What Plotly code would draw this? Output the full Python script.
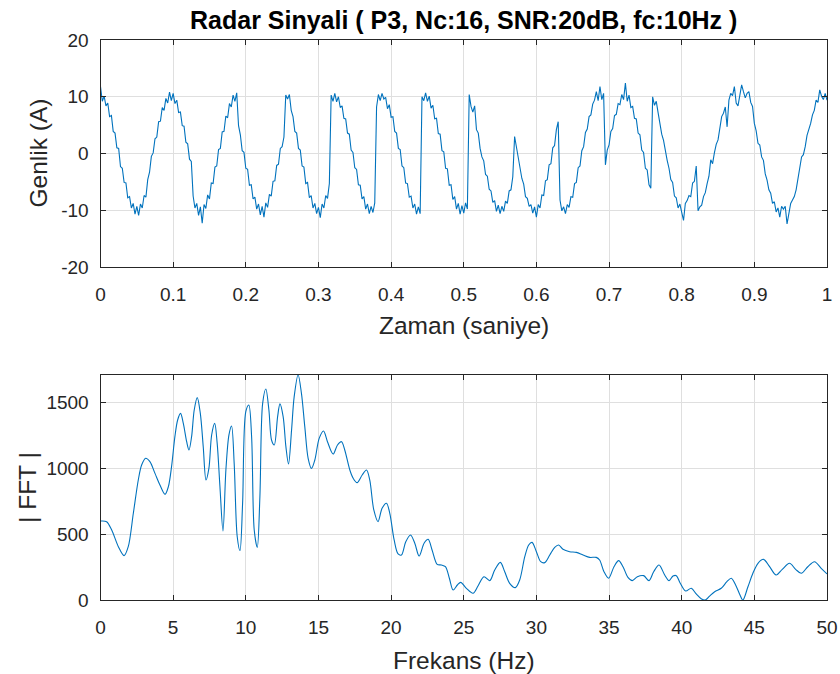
import numpy as np
import plotly.graph_objects as go

# Received P3-coded radar pulse (Nc = 16 chips, 10 Hz carrier, SNR 20 dB), 401 samples over 1 s
t = np.linspace(0, 1, 401)
amplitude = [
    # chip 1
    11.8, 9.2, 10.1, 8.4, 8.9, 6.5, 6.7, 3.9, 3.6, 1.0, 0.9, -2.3, -2.6, -5.1, -5.2, -7.8,
    -7.6, -9.6, -8.8, -10.7, -9.3, -10.9, -8.9, -9.6, -7.4, -7.7,
    # chip 2
    -4.6, -3.3, -0.5, 0.1, 2.6, 2.9, 5.6, 5.7, 8.1, 7.6, 9.7, 8.9, 10.8, 9.3, 10.6, 8.8,
    9.4, 7.2, 7.3, 4.9, 4.8, 2.0, 1.7, -1.0, -1.4,
    # chip 3
    -7.5, -9.6, -8.8, -10.9, -9.4, -12.3, -9.0, -9.7, -7.3, -8.0, -5.2, -5.3, -2.4, -2.2,
    0.7, 0.9, 3.8, 3.9, 6.6, 6.3, 8.8, 8.2, 10.3, 9.2, 10.7,
    # chip 4
    4.9, 3.3, 0.5, 0.2, -2.6, -2.8, -5.6, -5.5, -8.0, -7.7, -9.8, -8.9, -10.8, -9.3, -11.2,
    -8.7, -9.5, -7.2, -7.5, -4.9, -4.8, -2.1, -1.9, 0.9, 1.2, 2.9,
    # chip 5
    10.3, 9.6, 10.4, 7.6, 6.5, 3.9, 3.6, 0.9, 0.6, -2.2, -2.4, -5.3, -5.1, -7.8, -7.4, -9.6,
    -8.8, -10.6, -9.5, -11.3, -8.9, -9.6, -7.4, -7.9, -5.3,
    # chip 6
    10.3, 9.2, 10.6, 9.1, 10.0, 8.1, 8.4, 6.2, 6.1, 3.6, 3.4, 0.6, 0.2, -2.5, -2.8, -5.5,
    -5.6, -8.0, -7.6, -9.8, -8.9, -10.6, -9.3, -10.4, -8.7,
    # chip 7
    8.2, 10.4, 9.3, 10.6, 9.6, 9.9, 7.9, 8.6, 6.4, 6.5, 3.9, 3.6, 0.9, 0.7, -2.2, -2.5,
    -5.2, -5.3, -7.7, -7.5, -9.6, -8.9, -10.7, -9.4, -10.6,
    # chip 8
    10.0, 9.3, 10.7, 9.2, 10.1, 8.0, 8.5, 6.1, 6.2, 3.5, 3.4, 0.5, 0.3, -2.6, -2.7, -5.6,
    -5.5, -8.1, -7.6, -9.8, -8.8, -10.7, -9.2, -10.5, -8.7, -9.8,
    # chip 9
    10.4, 8.3, 7.3, 8.4, 4.2, 3.6, 0.9, -0.6, -1.3, -3.7, -4.0, -6.3, -6.6, -8.6, -8.3,
    -10.2, -9.1, -10.6, -9.3, -10.2, -8.4, -8.8, -6.6, -6.4, -4.1,
    # chip 10
    3.0, 1.2, -0.9, -2.3, -4.4, -5.4, -7.6, -7.9, -9.3, -9.0, -10.5, -9.4, -11.2, -9.0,
    -9.6, -7.3, -7.4, -4.8, -4.6, -2.0, -1.8, 1.0, 1.4, 4.2, 5.6,
    # chip 11
    -8.2, -10.1, -9.4, -10.6, -9.0, -9.5, -7.6, -7.7, -5.3, -5.1, -2.5, -2.2, 0.5, 1.2,
    3.7, 4.3, 6.5, 6.8, 8.7, 9.4, 10.9, 9.3, 11.8, 9.5, 10.6,
    # chip 12
    -2.0, 0.6, 1.5, 3.9, 4.4, 6.7, 6.9, 8.8, 8.6, 10.4, 9.5, 12.4, 9.2, 10.3, 8.1, 8.3,
    6.2, 6.1, 3.6, 3.3, 0.6, 0.2, -2.6, -2.9, -5.5, -6.1,
    # chip 13
    10.0, 8.5, 9.2, 7.2, 5.0, 3.4, 2.3, 0.4, -1.2, -2.6, -4.6, -5.1, -7.5, -7.8, -9.6,
    -8.9, -10.3, -11.8, -8.8, -8.3, -7.4, -7.6, -5.2, -4.9, -2.2,
    # chip 14
    -10.1, -9.4, -9.1, -7.6, -6.9, -5.3, -4.0, -1.1, -1.8, 0.1, 1.6, 2.4, 4.7, 6.5, 7.1,
    8.2, 4.7, 9.4, 10.6, 10.2, 11.8, 8.9, 8.4, 10.0, 12.1,
    # chip 15
    10.9, 9.8, 10.6, 10.9, 9.0, 8.3, 5.3, 4.0, 1.8, 1.5, -0.6, -1.2, -3.6, -4.7, -6.4,
    -7.0, -8.8, -8.5, -10.3, -9.6, -11.2, -9.3, -9.8, -9.3, -12.4, -10.6,
    # chip 16
    -8.8, -8.2, -7.6, -6.4, -4.2, -2.9, -0.6, -0.2, 1.2, 3.2, 4.1, 5.3, 6.8, 7.6, 9.4,
    9.0, 11.2, 10.1, 9.5, 10.6, 9.4,
]

# Magnitude spectrum |FFT| (0-50 Hz)
freq_hz = [
    0.0, 0.42, 0.77, 1.23, 1.62, 1.91, 2.26, 2.6, 2.83, 3.11, 3.4, 3.75, 4.09, 4.44, 4.67,
    4.89, 5.12, 5.31, 5.51, 5.7, 5.93, 6.09, 6.27, 6.45, 6.66, 6.87, 7.07, 7.26, 7.46, 7.65,
    7.86, 8.03, 8.22, 8.43, 8.63, 8.84, 9.02, 9.2, 9.41, 9.6, 9.78, 10.0, 10.21, 10.4, 10.58,
    10.79, 10.97, 11.16, 11.38, 11.59, 11.77, 11.96, 12.19, 12.35, 12.57, 12.76, 12.94,
    13.15, 13.33, 13.6, 13.83, 14.06, 14.29, 14.52, 14.75, 15.05, 15.35, 15.62, 16.01,
    16.31, 16.59, 16.81, 17.16, 17.39, 17.66, 18.01, 18.31, 18.53, 18.81, 19.1, 19.38,
    19.68, 19.91, 20.21, 20.48, 20.71, 21.01, 21.34, 21.63, 21.93, 22.27, 22.55, 22.82,
    23.17, 23.46, 23.74, 24.01, 24.27, 24.56, 24.79, 25.18, 25.64, 25.98, 26.39, 26.79,
    27.13, 27.52, 27.82, 28.16, 28.55, 28.85, 29.2, 29.47, 29.7, 30.0, 30.3, 30.57, 30.92,
    31.26, 31.53, 31.83, 32.29, 32.75, 33.21, 33.67, 34.12, 34.35, 34.65, 34.97, 35.34,
    35.66, 35.96, 36.3, 36.6, 36.95, 37.38, 37.75, 38.07, 38.44, 38.83, 39.13, 39.4, 39.63,
    39.9, 40.27, 40.66, 41.0, 41.34, 41.62, 41.92, 42.27, 42.72, 43.11, 43.41, 43.71,
    43.98, 44.21, 44.56, 44.9, 45.25, 45.63, 46.05, 46.5, 46.92, 47.42, 47.84, 48.23,
    48.68, 49.14, 49.6, 50.0,
]
fft_mag = [
    600, 595, 532, 405, 337, 405, 659, 912, 1026, 1077, 1051, 962, 874, 803, 861,
    1013, 1241, 1368, 1418, 1342, 1203, 1140, 1241, 1444, 1538, 1418, 1165, 912, 1000, 1254,
    1342, 1190, 861, 524, 988, 1254, 1322, 1038, 481, 375, 735, 1431, 1482, 1241, 532,
    400, 785, 1494, 1603, 1444, 1216, 1178, 1393, 1490, 1393, 1165, 1033,
    1292, 1545, 1712, 1570, 1317, 1077, 1000, 1064, 1228, 1284, 1203, 1109,
    1178, 1203, 1140, 988, 925, 892, 950, 988, 912, 684, 595, 697,
    735, 659, 456, 350, 342, 443, 494, 431, 334, 431, 461, 380,
    271, 266, 253, 165, 76, 114, 134, 89, 51, 106, 177, 147,
    228, 286, 215, 127, 94, 152, 329, 418, 438, 367, 291, 284, 342,
    400, 418, 385, 367, 362, 342, 324, 324, 304, 215, 165, 253,
    299, 253, 172, 147, 177, 185, 147, 215, 266, 190, 147, 182, 185,
    127, 68, 89, 46, 10, 0, 30, 63, 89, 139, 165, 114,
    46, 0, 101, 203, 279, 309, 253, 190, 233, 279, 233, 203,
    253, 291, 241, 198,
]

time_ticks = [0, 0.1, 0.2, 0.3, 0.4, 0.5, 0.6, 0.7, 0.8, 0.9, 1]
time_labels = ["0", "0.1", "0.2", "0.3", "0.4", "0.5", "0.6", "0.7", "0.8", "0.9", "1"]
amp_ticks = [-20, -10, 0, 10, 20]
amp_labels = ["-20", "-10", "0", "10", "20"]
freq_ticks = [0, 5, 10, 15, 20, 25, 30, 35, 40, 45, 50]
freq_labels = ["0", "5", "10", "15", "20", "25", "30", "35", "40", "45", "50"]
mag_ticks = [0, 500, 1000, 1500]
mag_labels = ["0", "500", "1000", "1500"]

FONT = "Liberation Sans, Arial, Helvetica, sans-serif"
INK = "#262626"
LINE = "#0072BD"

axis_style = dict(
    showline=True, linecolor=INK, linewidth=1, mirror="ticks",
    ticks="inside", ticklen=5, tickcolor=INK, tickwidth=1,
    showgrid=True, gridcolor="#dfdfdf", gridwidth=1, zeroline=False,
    tickfont=dict(family=FONT, size=19, color=INK), tickmode="array",
    automargin=False,
)

fig = go.Figure()
fig.add_trace(go.Scatter(
    x=t, y=amplitude, mode="lines", line=dict(color=LINE, width=1.1),
    xaxis="x", yaxis="y", showlegend=False, hoverinfo="skip",
))
fig.add_trace(go.Scatter(
    x=freq_hz, y=fft_mag, mode="lines",
    line=dict(color=LINE, width=1.1, shape="spline", smoothing=0.9),
    xaxis="x2", yaxis="y2", showlegend=False, hoverinfo="skip",
))

xdom = [100.5 / 840, 827 / 840]
fig.update_layout(
    width=840, height=674, autosize=False,
    margin=dict(l=0, r=0, t=0, b=0, pad=0, autoexpand=False),
    paper_bgcolor="white", plot_bgcolor="white", showlegend=False,
    xaxis=dict(domain=xdom, anchor="y", range=[0, 1], tickvals=time_ticks,
               ticktext=time_labels, ticklabelstandoff=10, **axis_style),
    yaxis=dict(domain=[407 / 674, 634 / 674], anchor="x", range=[-20, 20],
               tickvals=amp_ticks, ticktext=amp_labels, ticklabelstandoff=7, **axis_style),
    xaxis2=dict(domain=xdom, anchor="y2", range=[0, 50], tickvals=freq_ticks,
                ticktext=freq_labels, ticklabelstandoff=10, **axis_style),
    yaxis2=dict(domain=[74 / 674, 299.3 / 674], anchor="x2", range=[0, 1712],
                tickvals=mag_ticks, ticktext=mag_labels, ticklabelstandoff=7, **axis_style),
)

label_font = dict(family=FONT, size=24.5, color=INK)
annotations = [
    dict(text="<b>Radar Sinyali ( P3, Nc:16, SNR:20dB, fc:10Hz )</b>", x=463.75 / 840,
         y=1 - 20 / 674, font=dict(family=FONT, size=25, color="#000000")),
    dict(text="Zaman (saniye)", x=463.75 / 840, y=1 - 326 / 674, font=label_font),
    dict(text="Frekans (Hz)", x=463.75 / 840, y=1 - 660 / 674, font=label_font),
    dict(text="Genlik (A)", x=38 / 840, y=1 - 153.5 / 674, textangle=-90, font=label_font),
    dict(text="| FFT |", x=27 / 840, y=1 - 487 / 674, textangle=-90, font=label_font),
]
for a in annotations:
    a.update(xref="paper", yref="paper", showarrow=False, xanchor="center", yanchor="middle")
fig.update_layout(annotations=annotations)

fig.write_html("out.html")
